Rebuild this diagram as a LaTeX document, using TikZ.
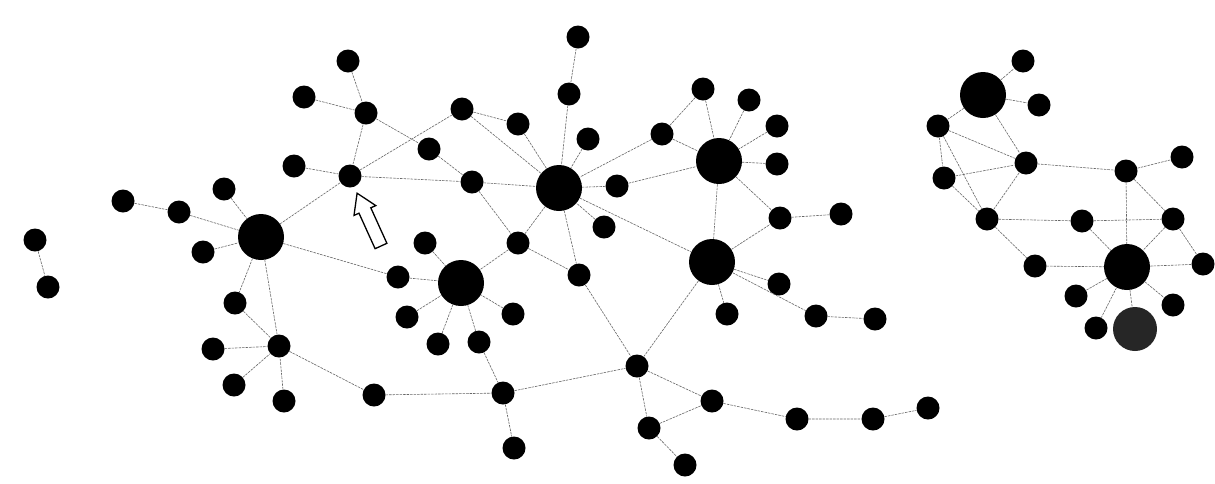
\documentclass[tikz,border=0pt]{standalone}
\begin{document}
\begin{tikzpicture}[x=1pt,y=-1pt,
  sm/.style={circle,fill=black,minimum size=23pt,inner sep=0pt},
  hub/.style={circle,fill=black,minimum size=46pt,inner sep=0pt},
  ln/.style={draw=black!60,line width=0.6pt,dash pattern=on 2.5pt off 1pt}]
\useasboundingbox[fill=white] (0,0) rectangle (1215,483);
% left pair
\node[sm] (l1) at (35,240) {};
\node[sm] (l2) at (48,287) {};
% hub A
\node[hub] (A) at (261,237) {};
\node[sm] (a1) at (123,201) {};
\node[sm] (a2) at (179,212) {};
\node[sm] (a3) at (224,189) {};
\node[sm] (a4) at (203,252) {};
\node[sm] (a5) at (235,303) {};
\node[sm] (a6) at (279,346) {};
\node[sm] (a7) at (213,349) {};
\node[sm] (a8) at (234,385) {};
\node[sm] (a9) at (284,401) {};
% upper middle
\node[sm] (n1) at (348,61) {};
\node[sm] (n2) at (304,97) {};
\node[sm] (n3) at (366,113) {};
\node[sm] (n4) at (294,166) {};
\node[sm] (n5) at (350,176) {};
\node[sm] (n6) at (462,109) {};
\node[sm] (n7) at (518,124) {};
\node[sm] (n8) at (429,149) {};
\node[sm] (n9) at (472,182) {};
\node[sm] (n10) at (425,243) {};
\node[sm] (n11) at (518,243) {};
% hub B
\node[hub] (B) at (559,188) {};
\node[sm] (b1) at (578,37) {};
\node[sm] (b2) at (569,94) {};
\node[sm] (b3) at (588,139) {};
\node[sm] (b4) at (662,134) {};
\node[sm] (b5) at (617,186) {};
\node[sm] (b6) at (604,227) {};
\node[sm] (b7) at (579,275) {};
% hub C
\node[hub] (C) at (719,161) {};
\node[sm] (c1) at (703,89) {};
\node[sm] (c2) at (749,100) {};
\node[sm] (c3) at (777,126) {};
\node[sm] (c4) at (777,164) {};
\node[sm] (c5) at (780,218) {};
\node[sm] (c6) at (841,214) {};
% hub D
\node[hub] (D) at (712,262) {};
\node[sm] (d1) at (779,284) {};
\node[sm] (d2) at (727,314) {};
\node[sm] (d3) at (816,316) {};
\node[sm] (d4) at (875,319) {};
% hub E
\node[hub] (E) at (461,283) {};
\node[sm] (e1) at (398,277) {};
\node[sm] (e2) at (407,317) {};
\node[sm] (e3) at (438,344) {};
\node[sm] (e4) at (479,342) {};
\node[sm] (e5) at (513,314) {};
% bottom
\node[sm] (s1) at (374,395) {};
\node[sm] (s2) at (503,393) {};
\node[sm] (s3) at (514,448) {};
\node[sm] (p1) at (637,366) {};
\node[sm] (p2) at (649,428) {};
\node[sm] (p3) at (685,465) {};
\node[sm] (p4) at (712,401) {};
\node[sm] (p5) at (797,419) {};
\node[sm] (p6) at (873,419) {};
\node[sm] (p7) at (928,408) {};
% right island
\node[hub] (F) at (983,95) {};
\node[sm] (f1) at (1023,61) {};
\node[sm] (f2) at (1039,105) {};
\node[sm] (f3) at (938,126) {};
\node[sm] (f4) at (944,178) {};
\node[sm] (f5) at (1026,163) {};
\node[sm] (f6) at (987,219) {};
\node[sm] (f7) at (1126,171) {};
\node[sm] (f8) at (1182,157) {};
\node[sm] (f9) at (1082,221) {};
\node[sm] (f10) at (1173,219) {};
\node[hub] (G) at (1127,267) {};
\node[sm] (g1) at (1035,266) {};
\node[sm] (g2) at (1203,264) {};
\node[sm] (g3) at (1076,296) {};
\node[sm] (g4) at (1173,305) {};
\node[sm] (g5) at (1096,328) {};
\node[hub,fill=black!85,minimum size=44pt] (H) at (1135,329) {};
% edges
\draw[ln] (l1)--(l2);
\draw[ln] (a1)--(a2) (a2)--(A) (a3)--(A) (a4)--(A) (A)--(a5) (a5)--(a6) (A)--(a6)
  (a7)--(a6) (a8)--(a6) (a9)--(a6) (a6)--(s1) (A)--(n5) (A)--(e1);
\draw[ln] (n1)--(n3) (n2)--(n3) (n3)--(n5) (n3)--(n8) (n8)--(n9) (n4)--(n5)
  (n5)--(n9) (n5)--(n6) (n6)--(n7) (n6)--(B) (n7)--(B) (n9)--(B) (n9)--(n11) (B)--(n11);
\draw[ln] (b1)--(b2) (b2)--(B) (b3)--(B) (b4)--(B) (b5)--(B) (b6)--(B) (B)--(b7) (B)--(D);
\draw[ln] (b4)--(c1) (b4)--(C) (c1)--(C) (c2)--(C) (c3)--(C) (c4)--(C) (C)--(c5)
  (c5)--(c6) (C)--(D) (D)--(c5) (b5)--(C);
\draw[ln] (D)--(d1) (D)--(d2) (D)--(d3) (d3)--(d4) (D)--(p1) (n11)--(b7) (b7)--(p1);
\draw[ln] (n10)--(E) (n11)--(E) (e1)--(E) (e2)--(E) (e3)--(E) (e4)--(E) (e5)--(E);
\draw[ln] (e4)--(s2) (s1)--(s2) (s2)--(p1) (s2)--(s3);
\draw[ln] (p1)--(p4) (p1)--(p2) (p2)--(p4) (p2)--(p3) (p4)--(p5) (p5)--(p6) (p6)--(p7);
\draw[ln] (F)--(f1) (F)--(f2) (F)--(f3) (F)--(f5) (f3)--(f4) (f3)--(f5) (f3)--(f6)
  (f4)--(f5) (f4)--(f6) (f6)--(f5) (f5)--(f7) (f7)--(f8) (f7)--(f10) (f7)--(G)
  (f6)--(f9) (f9)--(f10) (f9)--(G) (f10)--(G) (f10)--(g2) (f6)--(g1) (g1)--(G)
  (G)--(g2) (G)--(g3) (G)--(g4) (G)--(g5) (G)--(H);
% hollow arrow
\draw[line width=1.3pt,fill=white,line join=miter]
  (386.9,243.3)--(370.8,207.8)--(375.8,205.6)--(357.1,193.2)--(354.0,215.4)--(359.0,213.2)--(375.1,248.7)--cycle;
\end{tikzpicture}
\end{document}
